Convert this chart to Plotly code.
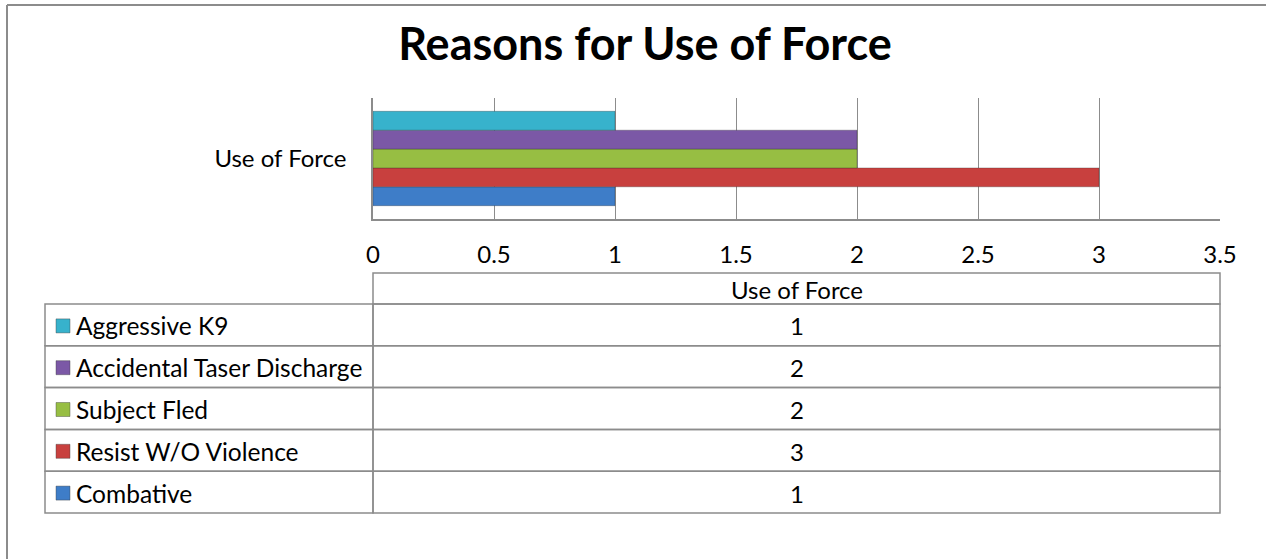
import plotly.graph_objects as go

# ---- data ----
category = ["Use of Force"]
series_names = ["Combative", "Resist W/O Violence", "Subject Fled",
                "Accidental Taser Discharge", "Aggressive K9"]
series_values = [1, 3, 2, 2, 1]
series_colors = ["#3E7DC8", "#C8403E", "#97BE43", "#7B58A6", "#37B2CC"]
x_ticks = [0, 0.5, 1, 1.5, 2, 2.5, 3, 3.5]
x_tick_labels = ["0", "0.5", "1", "1.5", "2", "2.5", "3", "3.5"]
title_text = "Reasons for Use of Force"

W, H = 1266, 559
PL, PR, PT, PB = 373, 1220, 98, 219  # plot area in pixels
FONT = "Lato, Carlito, Calibri, sans-serif"


def px(x):
    return (x - PL) / (PR - PL)


def py(y):
    return (PB - y) / (PB - PT)


fig = go.Figure()
for name, val, col in zip(series_names, series_values, series_colors):
    fig.add_trace(go.Bar(
        y=category, x=[val], name=name, orientation="h",
        marker=dict(color=col, line=dict(width=0.6, color="rgba(40,40,40,0.5)")),
        showlegend=False,
    ))

shapes = []
line_col = "#8C8C8C"
# outer chart border (left and top visible)
shapes.append(dict(type="line", xref="paper", yref="paper",
                   x0=px(7), x1=px(7), y0=py(5), y1=py(H + 10),
                   line=dict(color=line_col, width=2)))
shapes.append(dict(type="line", xref="paper", yref="paper",
                   x0=px(7), x1=px(W + 10), y0=py(5), y1=py(5),
                   line=dict(color=line_col, width=2)))

# data table
tbl_top, hdr_bot = 273, 304
row_h = (513 - 304) / 5
col_l, col_m, col_r = 45, PL, PR
tline = dict(color="#8C8C8C", width=1.5)
TFS = 24
shapes.append(dict(type="rect", xref="paper", yref="paper",
                   x0=px(col_m), x1=px(col_r), y0=py(tbl_top), y1=py(hdr_bot),
                   line=tline))
rows = list(reversed(list(zip(series_names, series_values, series_colors))))
annotations = [dict(text=category[0], x=px((col_m + col_r) / 2),
                    y=py((tbl_top + hdr_bot) / 2 + 1), xref="paper", yref="paper",
                    xanchor="center", yanchor="middle",
                    showarrow=False, font=dict(family=FONT, size=TFS, color="#000"))]
for i, (name, val, col) in enumerate(rows):
    y0 = hdr_bot + i * row_h
    y1 = y0 + row_h
    shapes.append(dict(type="rect", xref="paper", yref="paper",
                       x0=px(col_l), x1=px(col_m), y0=py(y0), y1=py(y1), line=tline))
    shapes.append(dict(type="rect", xref="paper", yref="paper",
                       x0=px(col_m), x1=px(col_r), y0=py(y0), y1=py(y1), line=tline))
    yc = (y0 + y1) / 2
    shapes.append(dict(type="rect", xref="paper", yref="paper",
                       x0=px(56), x1=px(70), y0=py(yc + 8), y1=py(yc - 6),
                       fillcolor=col, line=dict(width=0.8, color="rgba(60,60,60,0.5)")))
    annotations.append(dict(text=name, x=px(74), y=py(yc + 1), xref="paper", yref="paper",
                            xanchor="left", yanchor="middle", showarrow=False,
                            font=dict(family=FONT, size=24.5, color="#000")))
    annotations.append(dict(text=str(val), x=px((col_m + col_r) / 2), y=py(yc + 1),
                            xref="paper", yref="paper", xanchor="center", yanchor="middle",
                            showarrow=False,
                            font=dict(family=FONT, size=TFS, color="#000")))

fig.update_layout(
    width=W, height=H,
    margin=dict(l=PL, r=W - PR, t=PT, b=H - PB, pad=0),
    paper_bgcolor="white", plot_bgcolor="white",
    barmode="group", bargap=0.22, bargroupgap=0,
    title=dict(text="<b>" + title_text + "</b>", x=645 / W, xref="container",
               xanchor="center", y=1 - 44 / H, yref="container", yanchor="middle",
               font=dict(family=FONT, size=45, color="#000")),
    xaxis=dict(range=[0, 3.5], tickvals=x_ticks, ticktext=x_tick_labels,
               showgrid=True, gridcolor="#8C8C8C", gridwidth=1.3,
               showline=True, linecolor="#8C8C8C", linewidth=1.5,
               zeroline=False, ticks="", ticklabelstandoff=13,
               tickfont=dict(family=FONT, size=24, color="#000"), fixedrange=True),
    yaxis=dict(showline=True, linecolor="#8C8C8C", linewidth=1.5, showgrid=False,
               ticks="", ticklabelstandoff=20,
               tickfont=dict(family=FONT, size=24, color="#000"), fixedrange=True),
    shapes=shapes, annotations=annotations,
)

fig.write_html("out.html")
